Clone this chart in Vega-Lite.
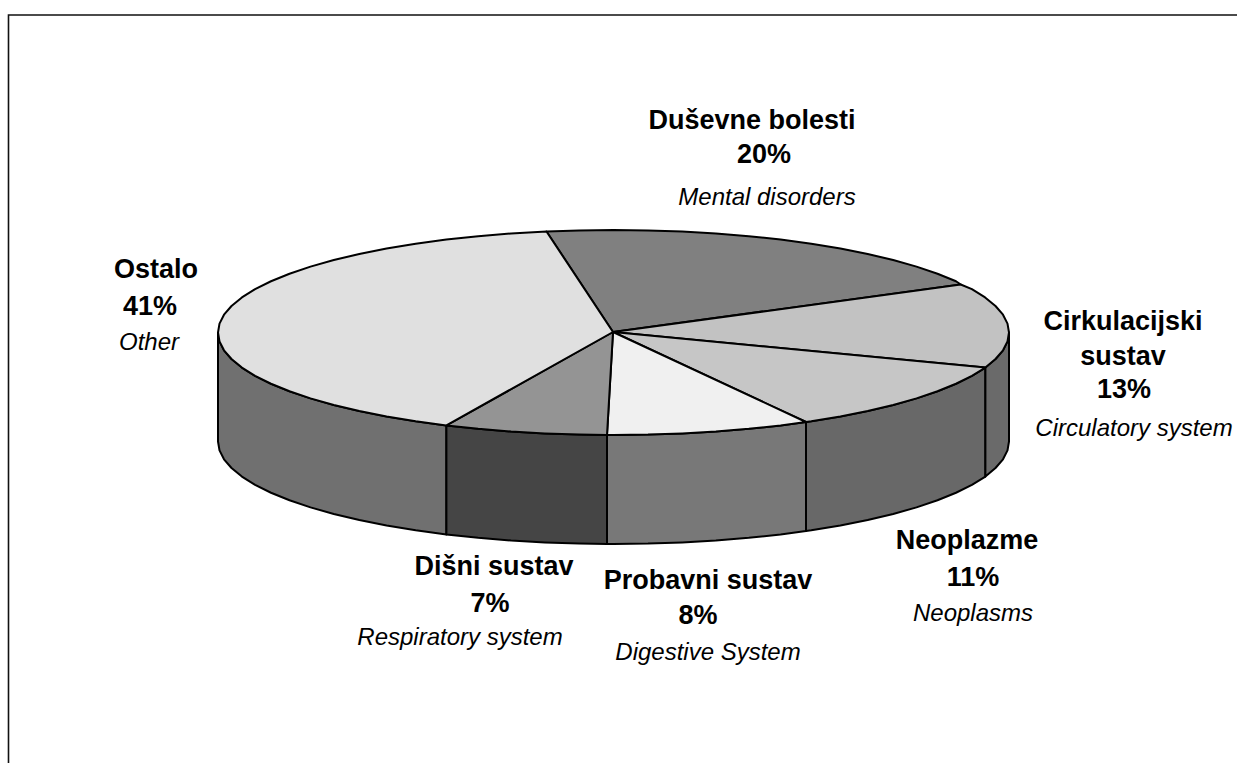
{"$schema":"https://vega.github.io/schema/vega-lite/v6.json","width":1237,"height":763,"autosize":"none","padding":0,"background":"white","config":{"view":{"stroke":null}},
"encoding":{"x":{"field":"x","type":"quantitative","scale":{"domain":[0,1237],"nice":false,"zero":false},"axis":null},"y":{"field":"y","type":"quantitative","scale":{"domain":[763,0],"nice":false,"zero":false},"axis":null}},
"layer":[
{"data":{"values":[{"o":1,"x":8.5,"y":763},{"o":2,"x":8.5,"y":15},{"o":3,"x":1237,"y":15}]},"mark":{"type":"line","stroke":"#111111","strokeWidth":1.6},"encoding":{"order":{"field":"o"}}},
{"data":{"values":[
{"face":"Ostalo side","o":1,"x":218,"y":332.5},{"face":"Ostalo side","o":2,"x":219.5,"y":341.4},{"face":"Ostalo side","o":3,"x":224,"y":350.3},{"face":"Ostalo side","o":4,"x":231.5,"y":359},{"face":"Ostalo side","o":5,"x":241.9,"y":367.6},{"face":"Ostalo side","o":6,"x":255.1,"y":375.8},{"face":"Ostalo side","o":7,"x":271,"y":383.75},{"face":"Ostalo side","o":8,"x":289.5,"y":391.3},{"face":"Ostalo side","o":9,"x":310.5,"y":398.4},{"face":"Ostalo side","o":10,"x":333.8,"y":405},{"face":"Ostalo side","o":11,"x":359.3,"y":411},{"face":"Ostalo side","o":12,"x":386.6,"y":416.5},{"face":"Ostalo side","o":13,"x":415.7,"y":421.3},{"face":"Ostalo side","o":14,"x":446.4,"y":425.4},{"face":"Ostalo side","o":15,"x":446.4,"y":534.4},{"face":"Ostalo side","o":16,"x":415.7,"y":530.3},{"face":"Ostalo side","o":17,"x":386.6,"y":525.5},{"face":"Ostalo side","o":18,"x":359.3,"y":520},{"face":"Ostalo side","o":19,"x":333.8,"y":514},{"face":"Ostalo side","o":20,"x":310.5,"y":507.4},{"face":"Ostalo side","o":21,"x":289.5,"y":500.3},{"face":"Ostalo side","o":22,"x":271,"y":492.75},{"face":"Ostalo side","o":23,"x":255.1,"y":484.8},{"face":"Ostalo side","o":24,"x":241.9,"y":476.6},{"face":"Ostalo side","o":25,"x":231.5,"y":468},{"face":"Ostalo side","o":26,"x":224,"y":459.3},{"face":"Ostalo side","o":27,"x":219.5,"y":450.4},{"face":"Ostalo side","o":28,"x":218,"y":441.5},{"face":"Ostalo side","o":29,"x":218,"y":332.5},
{"face":"Disni side","o":1,"x":446.4,"y":425.4},{"face":"Disni side","o":2,"x":478.2,"y":428.8},{"face":"Disni side","o":3,"x":511.1,"y":431.5},{"face":"Disni side","o":4,"x":544.8,"y":433.4},{"face":"Disni side","o":5,"x":579,"y":434.6},{"face":"Disni side","o":6,"x":607,"y":435},{"face":"Disni side","o":7,"x":607,"y":544},{"face":"Disni side","o":8,"x":579,"y":543.6},{"face":"Disni side","o":9,"x":544.8,"y":542.4},{"face":"Disni side","o":10,"x":511.1,"y":540.5},{"face":"Disni side","o":11,"x":478.2,"y":537.8},{"face":"Disni side","o":12,"x":446.4,"y":534.4},{"face":"Disni side","o":13,"x":446.4,"y":425.4},
{"face":"Probavni side","o":1,"x":607,"y":435},{"face":"Probavni side","o":2,"x":613.5,"y":435},{"face":"Probavni side","o":3,"x":648,"y":434.6},{"face":"Probavni side","o":4,"x":682.2,"y":433.4},{"face":"Probavni side","o":5,"x":715.9,"y":431.5},{"face":"Probavni side","o":6,"x":748.8,"y":428.8},{"face":"Probavni side","o":7,"x":780.6,"y":425.4},{"face":"Probavni side","o":8,"x":806,"y":422},{"face":"Probavni side","o":9,"x":806,"y":531},{"face":"Probavni side","o":10,"x":780.6,"y":534.4},{"face":"Probavni side","o":11,"x":748.8,"y":537.8},{"face":"Probavni side","o":12,"x":715.9,"y":540.5},{"face":"Probavni side","o":13,"x":682.2,"y":542.4},{"face":"Probavni side","o":14,"x":648,"y":543.6},{"face":"Probavni side","o":15,"x":613.5,"y":544},{"face":"Probavni side","o":16,"x":607,"y":544},{"face":"Probavni side","o":17,"x":607,"y":435},
{"face":"Neoplazme side","o":1,"x":806,"y":422},{"face":"Neoplazme side","o":2,"x":811.3,"y":421.3},{"face":"Neoplazme side","o":3,"x":840.4,"y":416.5},{"face":"Neoplazme side","o":4,"x":867.7,"y":411},{"face":"Neoplazme side","o":5,"x":893.2,"y":405},{"face":"Neoplazme side","o":6,"x":916.5,"y":398.4},{"face":"Neoplazme side","o":7,"x":937.5,"y":391.3},{"face":"Neoplazme side","o":8,"x":956,"y":383.75},{"face":"Neoplazme side","o":9,"x":971.9,"y":375.8},{"face":"Neoplazme side","o":10,"x":985.4,"y":367.6},{"face":"Neoplazme side","o":11,"x":985.4,"y":476.6},{"face":"Neoplazme side","o":12,"x":971.9,"y":484.8},{"face":"Neoplazme side","o":13,"x":956,"y":492.75},{"face":"Neoplazme side","o":14,"x":937.5,"y":500.3},{"face":"Neoplazme side","o":15,"x":916.5,"y":507.4},{"face":"Neoplazme side","o":16,"x":893.2,"y":514},{"face":"Neoplazme side","o":17,"x":867.7,"y":520},{"face":"Neoplazme side","o":18,"x":840.4,"y":525.5},{"face":"Neoplazme side","o":19,"x":811.3,"y":530.3},{"face":"Neoplazme side","o":20,"x":806,"y":531},{"face":"Neoplazme side","o":21,"x":806,"y":422},
{"face":"Cirkulacijski side","o":1,"x":985.4,"y":367.6},{"face":"Cirkulacijski side","o":2,"x":995.5,"y":359},{"face":"Cirkulacijski side","o":3,"x":1003,"y":350.3},{"face":"Cirkulacijski side","o":4,"x":1007.5,"y":341.4},{"face":"Cirkulacijski side","o":5,"x":1009,"y":332.5},{"face":"Cirkulacijski side","o":6,"x":1009,"y":441.5},{"face":"Cirkulacijski side","o":7,"x":1007.5,"y":450.4},{"face":"Cirkulacijski side","o":8,"x":1003,"y":459.3},{"face":"Cirkulacijski side","o":9,"x":995.5,"y":468},{"face":"Cirkulacijski side","o":10,"x":985.4,"y":476.6},{"face":"Cirkulacijski side","o":11,"x":985.4,"y":367.6},
{"face":"Dusevne top","o":1,"x":613,"y":332},{"face":"Dusevne top","o":2,"x":960.7,"y":284.5},{"face":"Dusevne top","o":3,"x":956,"y":281.25},{"face":"Dusevne top","o":4,"x":937.5,"y":273.7},{"face":"Dusevne top","o":5,"x":916.5,"y":266.6},{"face":"Dusevne top","o":6,"x":893.2,"y":260},{"face":"Dusevne top","o":7,"x":867.7,"y":254},{"face":"Dusevne top","o":8,"x":840.4,"y":248.5},{"face":"Dusevne top","o":9,"x":811.3,"y":243.7},{"face":"Dusevne top","o":10,"x":780.6,"y":239.6},{"face":"Dusevne top","o":11,"x":748.8,"y":236.2},{"face":"Dusevne top","o":12,"x":715.9,"y":233.5},{"face":"Dusevne top","o":13,"x":682.2,"y":231.6},{"face":"Dusevne top","o":14,"x":648,"y":230.4},{"face":"Dusevne top","o":15,"x":613.5,"y":230},{"face":"Dusevne top","o":16,"x":579,"y":230.4},{"face":"Dusevne top","o":17,"x":546.5,"y":231.5},{"face":"Dusevne top","o":18,"x":613,"y":332},
{"face":"Cirkulacijski top","o":1,"x":613,"y":332},{"face":"Cirkulacijski top","o":2,"x":960.7,"y":284.5},{"face":"Cirkulacijski top","o":3,"x":971.9,"y":289.2},{"face":"Cirkulacijski top","o":4,"x":985.1,"y":297.4},{"face":"Cirkulacijski top","o":5,"x":995.5,"y":306},{"face":"Cirkulacijski top","o":6,"x":1003,"y":314.7},{"face":"Cirkulacijski top","o":7,"x":1007.5,"y":323.6},{"face":"Cirkulacijski top","o":8,"x":1009,"y":332.5},{"face":"Cirkulacijski top","o":9,"x":1007.5,"y":341.4},{"face":"Cirkulacijski top","o":10,"x":1003,"y":350.3},{"face":"Cirkulacijski top","o":11,"x":995.5,"y":359},{"face":"Cirkulacijski top","o":12,"x":985.4,"y":367.6},{"face":"Cirkulacijski top","o":13,"x":613,"y":332},
{"face":"Neoplazme top","o":1,"x":613,"y":332},{"face":"Neoplazme top","o":2,"x":985.4,"y":367.6},{"face":"Neoplazme top","o":3,"x":971.9,"y":375.8},{"face":"Neoplazme top","o":4,"x":956,"y":383.75},{"face":"Neoplazme top","o":5,"x":937.5,"y":391.3},{"face":"Neoplazme top","o":6,"x":916.5,"y":398.4},{"face":"Neoplazme top","o":7,"x":893.2,"y":405},{"face":"Neoplazme top","o":8,"x":867.7,"y":411},{"face":"Neoplazme top","o":9,"x":840.4,"y":416.5},{"face":"Neoplazme top","o":10,"x":811.3,"y":421.3},{"face":"Neoplazme top","o":11,"x":806,"y":422},{"face":"Neoplazme top","o":12,"x":613,"y":332},
{"face":"Probavni top","o":1,"x":613,"y":332},{"face":"Probavni top","o":2,"x":806,"y":422},{"face":"Probavni top","o":3,"x":780.6,"y":425.4},{"face":"Probavni top","o":4,"x":748.8,"y":428.8},{"face":"Probavni top","o":5,"x":715.9,"y":431.5},{"face":"Probavni top","o":6,"x":682.2,"y":433.4},{"face":"Probavni top","o":7,"x":648,"y":434.6},{"face":"Probavni top","o":8,"x":613.5,"y":435},{"face":"Probavni top","o":9,"x":607,"y":435},{"face":"Probavni top","o":10,"x":613,"y":332},
{"face":"Disni top","o":1,"x":613,"y":332},{"face":"Disni top","o":2,"x":607,"y":435},{"face":"Disni top","o":3,"x":579,"y":434.6},{"face":"Disni top","o":4,"x":544.8,"y":433.4},{"face":"Disni top","o":5,"x":511.1,"y":431.5},{"face":"Disni top","o":6,"x":478.2,"y":428.8},{"face":"Disni top","o":7,"x":446.4,"y":425.4},{"face":"Disni top","o":8,"x":613,"y":332},
{"face":"Ostalo top","o":1,"x":613,"y":332},{"face":"Ostalo top","o":2,"x":446.4,"y":425.4},{"face":"Ostalo top","o":3,"x":415.7,"y":421.3},{"face":"Ostalo top","o":4,"x":386.6,"y":416.5},{"face":"Ostalo top","o":5,"x":359.3,"y":411},{"face":"Ostalo top","o":6,"x":333.8,"y":405},{"face":"Ostalo top","o":7,"x":310.5,"y":398.4},{"face":"Ostalo top","o":8,"x":289.5,"y":391.3},{"face":"Ostalo top","o":9,"x":271,"y":383.75},{"face":"Ostalo top","o":10,"x":255.1,"y":375.8},{"face":"Ostalo top","o":11,"x":241.9,"y":367.6},{"face":"Ostalo top","o":12,"x":231.5,"y":359},{"face":"Ostalo top","o":13,"x":224,"y":350.3},{"face":"Ostalo top","o":14,"x":219.5,"y":341.4},{"face":"Ostalo top","o":15,"x":218,"y":332.5},{"face":"Ostalo top","o":16,"x":219.5,"y":323.6},{"face":"Ostalo top","o":17,"x":224,"y":314.7},{"face":"Ostalo top","o":18,"x":231.5,"y":306},{"face":"Ostalo top","o":19,"x":241.9,"y":297.4},{"face":"Ostalo top","o":20,"x":255.1,"y":289.2},{"face":"Ostalo top","o":21,"x":271,"y":281.25},{"face":"Ostalo top","o":22,"x":289.5,"y":273.7},{"face":"Ostalo top","o":23,"x":310.5,"y":266.6},{"face":"Ostalo top","o":24,"x":333.8,"y":260},{"face":"Ostalo top","o":25,"x":359.3,"y":254},{"face":"Ostalo top","o":26,"x":386.6,"y":248.5},{"face":"Ostalo top","o":27,"x":415.7,"y":243.7},{"face":"Ostalo top","o":28,"x":446.4,"y":239.6},{"face":"Ostalo top","o":29,"x":478.2,"y":236.2},{"face":"Ostalo top","o":30,"x":511.1,"y":233.5},{"face":"Ostalo top","o":31,"x":546.5,"y":231.5},{"face":"Ostalo top","o":32,"x":613,"y":332}
]},
"mark":{"type":"line","stroke":"#000000","strokeWidth":2,"strokeJoin":"round"},
"encoding":{"order":{"field":"o"},"detail":{"field":"face"},"fill":{"field":"face","type":"nominal","legend":null,"scale":{"domain":["Ostalo side","Disni side","Probavni side","Neoplazme side","Cirkulacijski side","Dusevne top","Cirkulacijski top","Neoplazme top","Probavni top","Disni top","Ostalo top"],"range":["#707070","#454545","#787878","#686868","#6a6a6a","#808080","#c2c2c2","#c6c6c6","#f0f0f0","#949494","#e0e0e0"]}}}},
{"data":{"values":[
{"t":"Duševne bolesti","x":752,"y":121},{"t":"20%","x":764,"y":155},
{"t":"Ostalo","x":156,"y":270},{"t":"41%","x":150,"y":307},
{"t":"Cirkulacijski","x":1123,"y":322},{"t":"sustav","x":1123,"y":357},{"t":"13%","x":1124,"y":390},
{"t":"Neoplazme","x":967,"y":541},{"t":"11%","x":973,"y":578},
{"t":"Probavni sustav","x":708,"y":581},{"t":"8%","x":698,"y":616},
{"t":"Dišni sustav","x":494,"y":567},{"t":"7%","x":490,"y":604}
]},"mark":{"type":"text","font":"Liberation Sans","fontWeight":"bold","fontSize":27,"align":"center","baseline":"middle","color":"#000000"},"encoding":{"text":{"field":"t"}}},
{"data":{"values":[
{"t":"Mental disorders","x":767,"y":198},{"t":"Other","x":149,"y":343},{"t":"Circulatory system","x":1134,"y":429},{"t":"Neoplasms","x":973,"y":614},{"t":"Digestive System","x":708,"y":653},{"t":"Respiratory system","x":460,"y":638}
]},"mark":{"type":"text","font":"Liberation Sans","fontStyle":"italic","fontSize":24,"align":"center","baseline":"middle","color":"#000000"},"encoding":{"text":{"field":"t"}}}
]}
